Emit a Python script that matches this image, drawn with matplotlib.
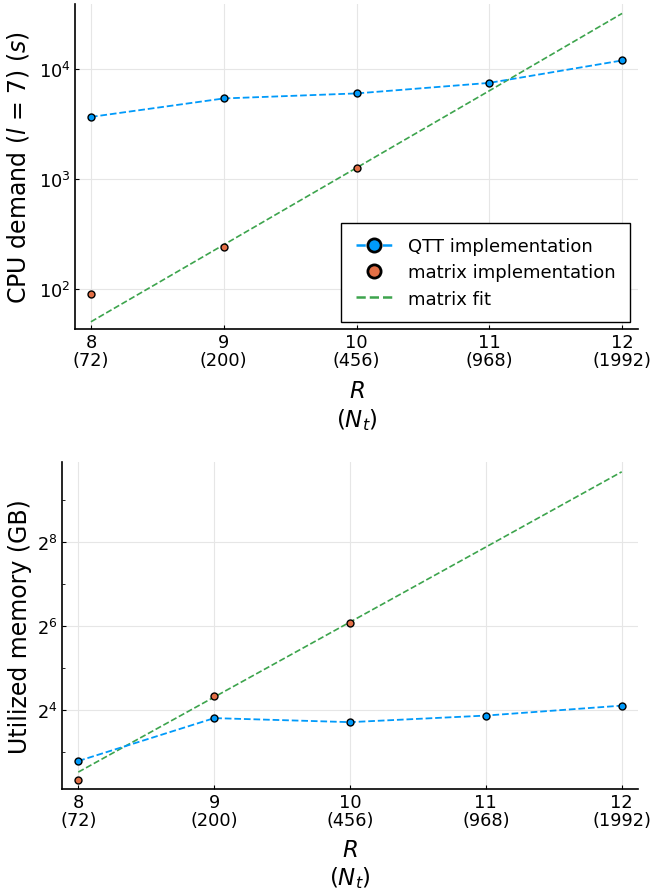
import numpy as np
import matplotlib
matplotlib.use('Agg')
import matplotlib.pyplot as plt
from matplotlib.ticker import FixedLocator, NullLocator, LogFormatterSciNotation, NullFormatter
from matplotlib.lines import Line2D

plt.rcParams['font.family'] = ['DejaVu Sans']
plt.rcParams['mathtext.fontset'] = 'dejavusans'

R = [8, 9, 10, 11, 12]
NT = [72, 200, 456, 968, 1992]
xticklabels = ['%d\n(%d)' % (r, n) for r, n in zip(R, NT)]

# CPU time (s)
cpu_qtt = [3660, 5390, 5990, 7470, 11950]
cpu_mat_R = [8, 9, 10]
cpu_mat = [90, 238, 1259]
cpu_fit = [50, 251, 1260, 6330, 32000]

# memory (GB)
mem_qtt = [6.9, 14.0, 13.1, 14.6, 17.2]
mem_mat_R = [8, 9, 10]
mem_mat = [5.04, 20.2, 67.3]
mem_fit = [5.75, 19.8, 68.2, 235, 812]

BLUE = '#009AFA'
ORANGE = '#E26F46'
GREEN = '#3DA44D'

fig = plt.figure(figsize=(6.56, 8.95), dpi=100)
ax1 = fig.add_axes([0.1143, 0.6313, 0.9726 - 0.1143, 0.9944 - 0.6313])
ax2 = fig.add_axes([0.0945, 0.1173, 0.9726 - 0.0945, 0.4827 - 0.1173])

def style(ax, lpad):
	for s in ['top', 'right']:
		ax.spines[s].set_visible(False)
	for s in ['left', 'bottom']:
		ax.spines[s].set_linewidth(1.2)
	ax.grid(True, color='#e6e6e6', linewidth=0.8)
	ax.set_axisbelow(True)
	ax.tick_params(direction='in', length=3, width=0.8, labelsize=12.8, pad=3)
	ax.tick_params(which='minor', direction='in', length=2, width=0.6)
	ax.set_xticks(R)
	ax.set_xticklabels(xticklabels, linespacing=1.0)
	ax.set_xlim(7.88, 12.12)
	ax.set_xlabel('$R$\n$(N_t)$', fontsize=16.5, linespacing=1.2, labelpad=lpad)

def draw(ax, qtt, mat_R, mat, fit):
	ax.plot(R, qtt, '--', color=BLUE, lw=1.3, marker='o', ms=5,
		mfc=BLUE, mec='black', mew=1.0, zorder=3)
	ax.plot(mat_R, mat, 'o', ms=5, mfc=ORANGE, mec='black', mew=1.0, zorder=4)
	ax.plot(R, fit, '--', color=GREEN, lw=1.2, zorder=2)

# top: CPU
draw(ax1, cpu_qtt, cpu_mat_R, cpu_mat, cpu_fit)
ax1.set_yscale('log')
ax1.set_ylim(43, 39000)
ax1.yaxis.set_major_locator(FixedLocator([1e2, 1e3, 1e4]))
ax1.yaxis.set_minor_locator(NullLocator())
ax1.yaxis.set_major_formatter(LogFormatterSciNotation(base=10))
style(ax1, 7)
ax1.set_ylabel('CPU demand ($l$ = 7) ($s$)', fontsize=17, labelpad=6)

handles = [
	Line2D([], [], ls='--', color=BLUE, lw=1.8, marker='o', ms=9.5, mfc=BLUE, mec='black', mew=2),
	Line2D([], [], ls='none', marker='o', ms=9.5, mfc=ORANGE, mec='black', mew=2),
	Line2D([], [], ls='--', color=GREEN, lw=1.8),
]
leg = ax1.legend(handles, ['QTT implementation', 'matrix implementation', 'matrix fit'],
	loc='lower right', bbox_to_anchor=(0.986, 0.0215), borderaxespad=0,
	fontsize=13, frameon=True, fancybox=False, edgecolor='black', framealpha=1,
	handlelength=2.0, borderpad=0.8, labelspacing=0.45, handletextpad=0.9)
leg.get_frame().set_linewidth(1.0)

# bottom: memory
draw(ax2, mem_qtt, mem_mat_R, mem_mat, mem_fit)
ax2.set_yscale('log', base=2)
ax2.set_ylim(4.35, 955)
ax2.yaxis.set_major_locator(FixedLocator([16, 64, 256]))
ax2.yaxis.set_minor_locator(FixedLocator([8, 32, 128, 512]))
ax2.yaxis.set_major_formatter(LogFormatterSciNotation(base=2))
ax2.yaxis.set_minor_formatter(NullFormatter())
style(ax2, 6)
ax2.set_ylabel('Utilized memory (GB)', fontsize=17, labelpad=4)

fig.savefig('out.png', dpi=100)
